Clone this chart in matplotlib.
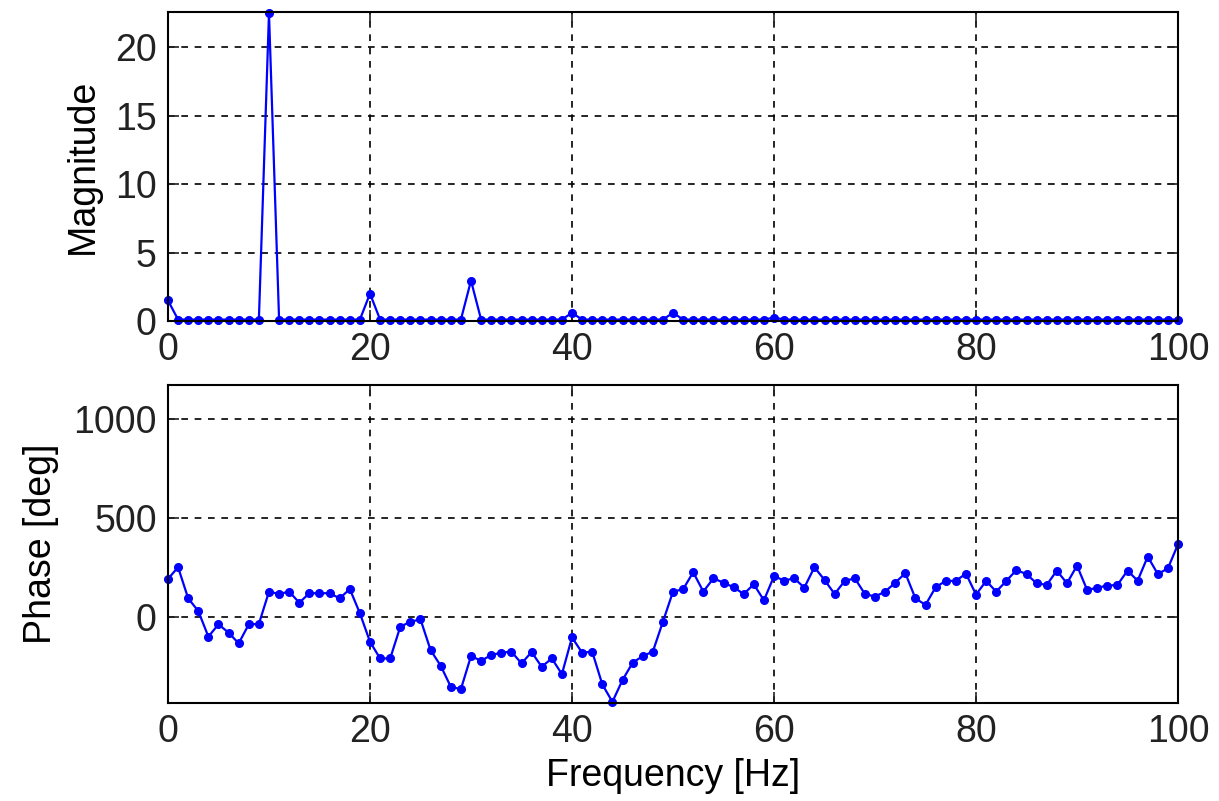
import numpy as np
import matplotlib
matplotlib.use('Agg')
from matplotlib import pyplot as plt

freq = np.arange(0, 101)

# magnitude, mostly a small floor with harmonics of 10 Hz
magnitude = [0.1] * 101
magnitude[0] = 1.5
magnitude[10] = 22.5
magnitude[20] = 2.0
magnitude[30] = 2.95
magnitude[40] = 0.6
magnitude[50] = 0.6
magnitude[60] = 0.25

phase = [192, 251, 94, 30, -99, -37, -79, -133, -37, -35,
         128, 116, 128, 72, 120, 120, 120, 94, 141, 19,
         -125, -209, -209, -49, -24, -12, -167, -246, -352, -364,
         -197, -221, -192, -180, -175, -234, -177, -251, -209, -288,
         -103, -180, -175, -340, -428, -318, -231, -197, -175, -24,
         128, 140, 226, 128, 195, 173, 150, 116, 165, 84,
         206, 184, 195, 148, 251, 187, 116, 182, 195, 116,
         103, 128, 173, 221, 94, 61, 150, 182, 182, 219,
         113, 182, 128, 182, 237, 216, 170, 162, 234, 170,
         259, 136, 148, 158, 162, 234, 183, 305, 216, 246,
         367]

plt.rcParams['font.family'] = ['Liberation Sans', 'DejaVu Sans']
plt.rcParams['font.size'] = 27

fig = plt.figure(figsize=(12.19, 8.01), dpi=100)
ax1 = fig.add_axes([0.1378, 0.5993, 0.8286, 0.3858])
ax2 = fig.add_axes([0.1378, 0.1223, 0.8286, 0.397])

style = dict(color='#0000ff', linewidth=1.6, marker='o', markersize=5.5,
             clip_on=False)
ax1.plot(freq, magnitude, **style)
ax2.plot(freq, phase, **style)

ax1.set_xlim(0, 100)
ax1.set_ylim(0, 22.6)
ax1.set_yticks([0, 5, 10, 15, 20])
ax1.set_ylabel('Magnitude', labelpad=10)

ax2.set_xlim(0, 100)
ax2.set_ylim(min(phase) - 6, 1170)
ax2.set_yticks([0, 500, 1000])
ax2.set_ylabel('Phase [deg]', labelpad=10)
ax2.set_xlabel('Frequency [Hz]', labelpad=6)

for ax in (ax1, ax2):
    ax.set_xticks([0, 20, 40, 60, 80, 100])
    ax.grid(True, color='black', linestyle=(0, (4, 4)), linewidth=1.2)
    ax.tick_params(direction='in', length=8, width=1.2, top=True, right=True,
                   pad=8, colors='#222222')
    for s in ax.spines.values():
        s.set_linewidth(1.5)

fig.savefig('out.png', dpi=100)
